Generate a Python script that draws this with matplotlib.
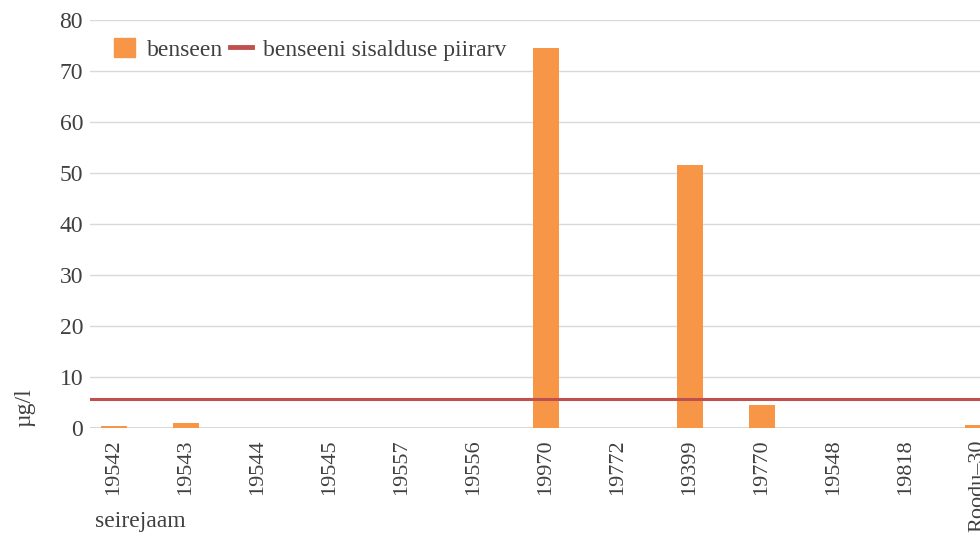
import matplotlib
matplotlib.use("Agg")
import matplotlib.pyplot as plt
from matplotlib.lines import Line2D
from matplotlib.patches import Patch

categories = ["19542", "19543", "19544", "19545", "19557", "19556", "19970",
              "19772", "19399", "19770", "19548", "19818", "Roodu\u201330"]
benseen = [0.45, 1.1, 0, 0, 0, 0, 74.6, 0, 51.6, 4.6, 0, 0, 0.6]
piirarv = 5.8

plt.rcParams['font.family'] = ['Liberation Serif', 'DejaVu Serif']
txt = '#404040'
fs = 17

fig = plt.figure(figsize=(9.8, 5.37), dpi=100)
H = 537.0
W = 980.0
ax = fig.add_axes([90 / W, (H - 428.3) / H, (980 - 90) / W, (428.3 - 20) / H])

x = list(range(len(categories)))
ax.bar(x, benseen, width=0.35, color='#F79646', zorder=2)
ax.axhline(piirarv, color='#C0504D', lw=2.2, zorder=3)

ax.set_ylim(0, 80)
ax.set_xlim(-24 / 72, (980 - 114) / 72)
ax.set_yticks(range(0, 81, 10))
ax.grid(axis='y', color='#d9d9d9', lw=1, zorder=0)
for s in ax.spines.values():
    s.set_visible(False)
ax.axhline(0, color='#d0d0d0', lw=1.2, zorder=1)
ax.tick_params(axis='both', length=0, colors=txt)
ax.tick_params(axis='y', pad=5, labelsize=fs)
ax.set_xticks(x)
ax.set_xticklabels(categories, rotation=90, va='top', ha='center')
ax.tick_params(axis='x', pad=8, labelsize=16)

fig.text(25 / W, (H - 408) / H, "\u00b5g/l", rotation=90, ha='center', va='center',
         fontsize=fs, color=txt)
fig.text(95 / W, (H - 522) / H, "seirejaam", ha='left', va='center',
         fontsize=fs, color=txt)

handles = [Patch(color='#F79646', label='benseen'),
           Line2D([0], [0], color='#C0504D', lw=3.5, label='benseeni sisalduse piirarv')]
leg = ax.legend(handles=handles, loc='upper left', bbox_to_anchor=(0.027, 0.957),
                ncol=2, frameon=False, fontsize=fs, handlelength=0.9,
                handleheight=0.9, columnspacing=0.3, handletextpad=0.5,
                labelcolor=txt, borderpad=0, borderaxespad=0)

fig.savefig("out.png", dpi=100)
